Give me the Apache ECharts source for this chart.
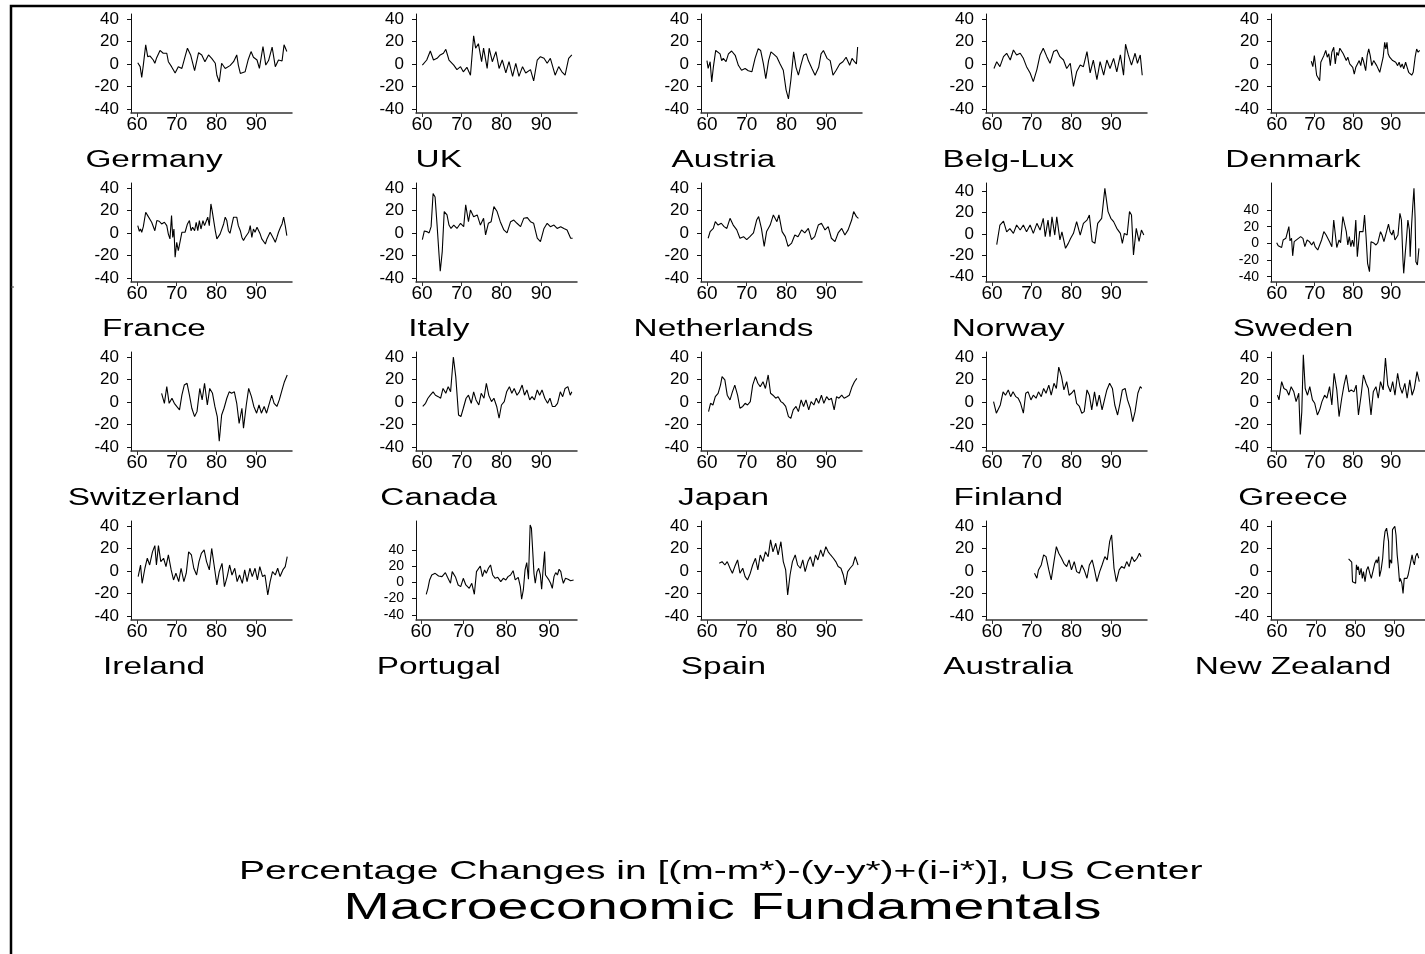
<!DOCTYPE html>
<html>
<head>
<meta charset="utf-8">
<title>Macroeconomic Fundamentals</title>
<script src="https://cdn.jsdelivr.net/npm/echarts@6/dist/echarts.min.js"></script>
<style>
  html, body { margin: 0; padding: 0; background: #fff; }
  #chart { width: 1425px; height: 954px; }
</style>
</head>
<body>
<div id="chart"></div>
<script>
var countries = ['Germany', 'UK', 'Austria', 'Belg-Lux', 'Denmark',
  'France', 'Italy', 'Netherlands', 'Norway', 'Sweden',
  'Switzerland', 'Canada', 'Japan', 'Finland', 'Greece',
  'Ireland', 'Portugal', 'Spain', 'Australia', 'New Zealand']
var xTicks = [60, 70, 80, 90]
var yTicks = [-40, -20, 0, 20, 40]

// [year, percentage change]
var germany = [[60.2,1],[60.8,-2.4],[61.2,-12],[61.6,-1],[62.2,17],[62.7,6.5],[63.3,7],[64.1,3.5],[64.5,0.6],[64.9,5],[65.8,12],[66.6,9.5],[67.5,9.5],[67.9,2],[68.7,-2.4],[69.6,-8],[70.4,-2.4],[71.3,-4],[72.1,6.5],[72.7,14],[73.5,8],[74.5,-6],[75.5,10],[76.3,8],[77.1,2],[78,8],[78.8,5],[79.7,0.6],[80.1,-10],[80.7,-16],[81.3,0.6],[82.2,-4],[83.4,-1.5],[84.3,2],[85.1,8],[85.5,-1],[86,-8.4],[87.2,-7],[88,4],[88.7,11],[89.3,6],[90.2,3.5],[90.8,-4],[91.7,15.5],[92.4,-1],[93.1,3],[94,15],[94.8,-2.4],[95.6,3.5],[96.5,2.7],[97,17],[97.7,11]]
var uk = [[60.1,-1],[60.6,-2.4],[61.2,3.5],[62.1,11.5],[62.9,3.5],[63.8,5],[64.6,8],[65.4,9.5],[66,13],[66.8,3.5],[68,-1],[68.8,-5],[69.7,-2.4],[70.4,-7],[71.3,-3],[72.2,-10],[73,25],[73.5,14],[74.2,18],[75,2],[75.5,14],[76.4,-4],[76.9,14],[77.7,2],[78.6,11],[79.4,-4],[80.2,3.5],[81.1,-8],[81.9,2],[82.8,-11],[83.6,0.6],[84.4,-11],[85.3,-2.4],[86.1,-8],[87.3,-5],[88.1,-15],[89,3.5],[89.8,6.5],[90.7,5],[91.5,0.6],[92.3,5],[93.5,-10],[94.4,-2.4],[95.2,-7],[96,-10],[96.9,5],[97.7,8]]
var austria = [[60,3],[60.3,-4],[60.8,2],[61.2,-16],[61.6,-3],[62.2,12],[62.7,13.6],[63.3,9],[63.7,3],[64.1,5],[64.8,2],[65.4,9],[66.2,11.5],[67.1,7.7],[67.9,-1.2],[68.7,-5.6],[69.6,-4],[70.4,-6],[71.3,-7],[72.1,5],[72.9,13.6],[73.5,12],[74.2,0],[74.8,-13],[75.5,3],[76.1,10.7],[76.7,9],[77.6,6],[78.4,0],[79.2,-5.6],[79.9,-23],[80.5,-31],[81.1,-14.5],[81.8,10.7],[82.4,-3],[83,-10],[83.6,-1.2],[84.3,7.7],[85,9],[85.5,3],[86.4,-4],[87.2,-10],[88.1,-3],[88.7,9],[89.3,12],[90.2,5],[91,3],[91.7,-10],[92.5,-5.6],[93.4,0],[94.2,2],[95,6],[95.9,-1.2],[96.5,5],[97.1,2],[97.6,0],[97.9,15]]
var belgLux = [[60.5,-4],[61.2,2],[62,-2.4],[62.9,6.5],[63.7,9.5],[64.6,3.5],[65.4,12.4],[66.2,8],[67.1,9.5],[67.9,5],[68.7,-2.4],[69.6,-8],[70.4,-15.7],[71.3,-5],[72.1,8],[72.9,14],[73.8,6.5],[74.6,0.6],[75.5,11],[76.3,12.4],[77.1,6.5],[78,3.5],[78.8,-4],[79.7,0.6],[80.5,-20],[81.3,-7],[82.2,-1],[83,-2.4],[83.9,11],[84.7,-8],[85.5,3.5],[86.4,-14],[87.2,2],[88.1,-10],[88.9,3.5],[89.7,-4],[90.6,5],[91.4,-7],[92.3,8],[93.1,-10],[93.6,17.5],[94.3,8],[95.1,-1],[96,9.5],[96.6,0.6],[97.3,8],[97.8,-10]]
var denmark = [[69.1,2.4],[69.5,-2.4],[69.9,7.4],[70.2,9],[70.5,-10],[71,-13],[71.3,-15],[71.6,1.5],[72,3],[72.4,7.4],[72.9,12],[73.3,6],[73.7,9],[74.1,-1.5],[74.5,10.4],[75,14.8],[75.4,0],[75.8,10.4],[76.2,7.4],[76.6,14],[77.1,13.3],[77.5,9],[77.9,10.4],[78.3,3],[78.7,6],[79.2,0],[79.6,1.5],[80,-3],[80.4,-9],[80.8,-3],[81.3,-4.4],[81.7,3],[82.1,-1.5],[82.5,6],[82.9,1.5],[83.4,-6],[83.8,7.4],[84.2,13.3],[84.6,7.4],[85,-1.5],[85.5,3],[85.9,1.5],[86.3,-1.5],[86.7,-3],[87.1,-7.4],[87.6,0],[88,6],[88.4,19.3],[88.7,13.3],[89,19.3],[89.3,9],[89.7,6],[90.1,7.4],[90.5,3],[90.9,3],[91.3,1.5],[91.8,-1.5],[92.2,1.5],[92.6,-3],[93,0],[93.4,-4.4],[93.9,1.5],[94.3,-3],[94.7,-7.4],[95.1,-6],[95.5,-10],[95.9,-7.4],[96.4,6],[96.8,13.3],[97.2,10.4],[97.6,12]]
var france = [[60.2,6.5],[60.6,1.5],[60.9,3.5],[61.2,0.6],[61.6,5.6],[62.2,18.4],[62.7,15.4],[63.1,17],[63.7,9.5],[64.1,8],[64.5,2],[65,11],[65.6,10.4],[66.2,8],[66.9,9.5],[67.5,6.5],[67.9,-1],[68.3,-5.3],[68.7,15.4],[69,-4],[69.3,3.5],[69.6,-21.6],[70,-8.3],[70.4,-15.7],[70.8,-15],[71.3,0.6],[71.7,2],[72.1,0.6],[72.7,8],[73.2,11],[73.6,2],[74,5],[74.5,2],[74.9,9.5],[75.3,2],[75.7,11],[76.1,3.5],[76.6,11],[77,6.5],[77.4,5],[77.8,14],[78.2,6.5],[78.6,25.8],[78.9,20],[79.2,18.4],[79.7,2],[80.1,-5.3],[80.5,-6.8],[80.9,-1],[81.3,0.6],[81.8,8],[82.2,14],[82.6,11],[83,2],[83.4,-0.3],[83.9,0.6],[84.3,14],[84.7,12.4],[85.1,14],[85.5,6.5],[86,2],[86.4,-4],[86.8,-6.8],[87.2,-4],[87.6,-5.3],[88.1,0.6],[88.5,6.5],[88.9,-4],[89.3,3.5],[89.7,0.6],[90.2,5],[90.6,3.5],[91,-1],[91.4,-5.3],[91.8,-6.8],[92.3,-9.8],[92.7,-5.3],[93.1,-4],[93.5,0.6],[93.9,2],[94.4,-5.3],[94.8,-8.3],[95.2,-4],[95.6,0.6],[96.1,5],[96.5,8],[96.9,14],[97.3,6.5],[97.7,-2.4]]
var italy = [[60.1,-6],[60.6,1.8],[61.2,1.2],[61.8,0],[62.3,5.6],[62.8,35],[63.3,32],[63.8,7],[64.3,-19.6],[64.6,-34],[65.1,-16.6],[65.6,19],[66.3,16],[66.8,7],[67.3,4],[68,7],[68.8,4],[69.7,8.6],[70.5,5.6],[71,25],[71.7,10],[72.2,20.4],[73,14.5],[73.9,16],[74.7,7],[75.5,13],[76,-1.8],[76.7,8.6],[77.4,10],[78.1,23.4],[78.9,19],[79.7,10],[80.6,2.7],[81.4,0],[82.3,10],[83.1,11.5],[83.9,8.6],[84.8,5.6],[85.6,13],[86.5,13.6],[87.3,10],[88.1,8.6],[89,-4.7],[89.8,-7.7],[90.7,4],[91.5,8.6],[92.3,5.6],[93.2,7],[94,4],[94.9,5.6],[95.7,4],[96.5,2.7],[97.4,-4.7],[97.9,-4.7]]
var netherlands = [[60.3,-4.7],[60.8,1.2],[61.6,4],[62.1,10],[62.8,7],[63.6,8.6],[64.3,5.6],[65,4],[65.8,13],[66.6,7],[67.5,2.7],[68.3,-4.7],[69.2,-3.3],[70,-6],[70.8,-3.3],[71.7,0],[72.5,11.5],[73,14.5],[73.7,4],[74.4,-12],[75,1.2],[75.9,7],[76.7,16],[77.6,10],[78.1,16],[78.9,1.2],[79.7,-3.3],[80.4,-12],[81.3,-9],[82.1,-1.8],[82.9,-3.3],[83.8,2.7],[84.6,0],[85.5,4],[86.3,-6],[87.1,-3.3],[88,7],[88.8,8.6],[89.7,2.7],[90.5,5.6],[91.3,-4.7],[92.2,-7.7],[93,0],[93.9,4],[94.7,-1.8],[95.5,2.7],[96.4,11.5],[96.9,19],[97.6,14.5],[98.1,13]]
var norway = [[61.2,-10],[62,8.4],[62.9,12],[63.7,2],[64.5,5],[65.4,0.6],[66.2,8.4],[67.1,3.7],[67.9,8.4],[68.7,2],[69.6,8.4],[70.4,0.6],[71.3,10],[72.1,3.7],[72.9,14.7],[73.4,-2.5],[74.1,13],[74.6,-2.5],[75.1,16],[75.8,-1],[76.3,16],[77.1,-5.6],[77.6,2],[78.5,-13.4],[79.2,-8.8],[79.8,-4],[80.5,0.6],[81.3,11.6],[82.2,-1],[83,10],[83.9,13],[84.5,17.8],[85.2,-7],[85.9,-8.8],[86.6,10],[87.6,14.7],[88.4,42.8],[89.2,21],[89.9,14.7],[90.6,11.6],[91.4,5.3],[92.3,0.6],[92.8,-8.8],[93.3,0.6],[94,-1],[94.6,21],[95.1,17.8],[95.6,-19.7],[96.3,5.3],[97,-7],[97.6,3.7],[98.2,-1]]
var sweden = [[60,0.8],[60.4,-3],[60.8,-0.8],[61.3,-5],[61.7,4],[62.4,6],[62.8,5],[63.2,20],[63.5,3],[63.9,6],[64.2,-15],[64.6,2],[65,0.8],[65.7,6],[66.3,8],[66.9,6],[67.4,-4],[68,4],[68.6,2],[69.2,-2],[69.7,2],[70.1,-4],[70.8,-8],[71.3,-6],[71.8,4],[72.4,14],[73,10],[73.4,8],[73.9,2],[74.5,-4],[75,28],[75.3,26],[75.8,-5],[76.4,4],[76.8,0.8],[77.4,32],[77.9,22],[78.3,14],[78.7,-2],[79.1,8],[79.5,-4],[79.9,4],[80.3,-4],[80.8,28],[81.2,-16],[81.5,-18],[81.8,14],[82.3,12],[82.7,14],[83.1,34],[83.5,8],[83.9,-24],[84.4,-34],[84.8,2],[85.4,0.8],[86.1,-2],[86.6,0.8],[87.3,14],[87.7,10],[88.2,2],[88.7,3],[89.4,23],[89.8,14],[90.3,10],[90.7,16],[91.1,4],[91.5,6],[91.9,10],[92.4,36],[92.8,28],[93.2,-20],[93.4,-36],[93.8,-12],[94.1,4],[94.5,28],[94.9,16],[95.1,-16],[95.5,24],[95.8,46],[96,44],[96.1,66],[96.4,30],[96.6,-22],[97,-26],[97.4,-6]]
var switzerland = [[66.2,7.7],[66.9,-1.2],[67.5,13.6],[68.1,-1.2],[68.8,3.3],[69.4,-1.2],[70,-4],[70.7,-7],[71.3,6],[71.9,15],[72.6,16.6],[73.2,6],[73.8,-5.6],[74.5,-13],[75.1,-8.6],[75.8,12],[76.4,1.8],[77,16.6],[77.7,-2.7],[78.3,12],[79,7.7],[79.6,-4],[80.2,-13],[80.7,-35],[81.3,-11.6],[81.9,-5.6],[82.6,3.3],[83.2,9],[83.8,7.7],[84.5,9],[85.1,-1.2],[85.7,-19],[86.4,-5.6],[86.8,-23.4],[87.5,-2.7],[88.1,12],[88.8,4.7],[89.4,-4],[90.1,-10],[90.7,-2.7],[91.3,-10],[92,-4],[92.6,-10],[93.3,-1.2],[93.9,6],[94.5,-1.2],[95.2,-4],[95.8,1.8],[96.5,10.7],[97.1,18],[97.8,24]]
var canada = [[60.2,-4],[60.9,-1.2],[61.5,3.3],[62.1,6],[62.8,9],[63.4,6],[64.1,4.7],[64.7,3.3],[65.3,12],[66,7.7],[66.6,13.6],[67.2,9],[67.9,40],[68.5,22.5],[69.2,-11.6],[69.8,-13],[70.4,-5.6],[71.1,3.3],[71.7,6],[72.4,-1.2],[73,9],[73.6,1.8],[74.3,-2.7],[74.9,7.7],[75.6,3.3],[76.2,16.6],[76.8,6],[77.5,0.3],[78.1,3.3],[78.8,-4],[79.4,-14.5],[80,-2.7],[80.7,0.3],[81.3,9],[82,13.6],[82.6,7.7],[83.2,12],[83.9,6],[84.5,9],[85.2,15],[85.8,6],[86.4,10.7],[87.1,1.8],[87.7,4.7],[88.3,1.8],[89,10.7],[89.6,6],[90.2,10.7],[90.9,3.3],[91.6,-1.2],[92.2,3.3],[92.8,-4],[93.5,-4],[94.1,-1.2],[94.8,9],[95.4,4.7],[96,12],[96.7,13.6],[97.3,6],[97.7,9]]
var japan = [[60.4,-8.6],[60.9,-1.2],[61.5,-2.7],[62.1,4.7],[62.8,7.7],[63.4,15],[63.8,22.5],[64.5,19.6],[65.1,6],[65.8,1.8],[66.4,9],[67,15],[67.7,6],[68.3,-5.6],[69,-4],[69.6,-1.2],[70.2,-2.7],[70.9,0.3],[71.5,15],[72.2,22.5],[72.8,16.6],[73.4,13.6],[74.1,18],[74.7,12],[75.4,24],[76,7.7],[76.6,6],[77.3,3.3],[77.9,4.7],[78.6,0.3],[79.2,-1.2],[79.8,-4],[80.5,-13],[81.1,-14.5],[81.7,-7],[82.4,-4],[83,-8.6],[83.7,1.8],[84.3,-4],[84.9,1.8],[85.6,-7],[86.2,0.3],[86.9,-2.7],[87.5,3.3],[88.1,-1.2],[88.8,6],[89.4,-1.2],[90.1,4.7],[90.7,1.8],[91.3,3.3],[92,-7],[92.6,4.7],[93.2,3.3],[93.9,6],[94.5,3.3],[95.2,4.7],[95.8,6],[96.5,13.6],[97.1,18],[97.7,21]]
var finland = [[60.4,0.3],[61.1,-10],[61.5,-11.6],[62.1,-2.7],[62.8,9],[63.4,6],[64.1,10.7],[64.7,4.7],[65.3,9],[66,4.7],[66.6,3.3],[67.2,-1.2],[67.9,-10],[68.5,7.7],[69.1,9],[69.8,1.8],[70.4,6],[71.1,3.3],[71.7,9],[72.4,4.7],[73,12],[73.6,7.7],[74.3,15],[74.9,6],[75.6,16.6],[76.2,12],[76.8,31],[77.5,22.5],[78.1,10.7],[78.8,18],[79.4,6],[80,7.7],[80.7,10.7],[81.3,-1.2],[82,-4],[82.6,-10],[83.2,-8.6],[83.9,10.7],[84.5,6],[85.1,-7],[85.8,9],[86.4,-4],[87,6],[87.7,-7],[88.3,1.8],[88.9,10.7],[89.6,16.6],[90.3,12],[90.9,-2.7],[91.6,-11.6],[92.2,-1.2],[92.8,10.7],[93.5,12],[94.1,1.8],[94.8,-5.6],[95.4,-17.5],[96,-8.6],[96.7,7.7],[97.3,13.6],[97.7,12]]
var greece = [[60.2,6],[60.6,1.8],[61.3,18],[61.9,12],[62.6,10.7],[63.2,6],[63.8,13.6],[64.5,9],[65.1,0.3],[65.8,7.7],[66.2,-29],[66.6,-8.6],[67,42],[67.5,12],[68.1,6],[68.7,13.6],[69.4,1.8],[70,-1.2],[70.7,-11.6],[71.3,-7],[71.9,0.3],[72.6,6],[73.2,3.3],[73.9,13.6],[74.5,-2.7],[75.1,25.5],[75.8,10.7],[76.4,-13],[77.1,3.3],[77.7,15],[78.3,24],[79,9],[79.6,10.7],[80.3,9],[80.9,15],[81.5,-11.6],[82.2,6],[82.8,24],[83.5,16.6],[84.1,12],[84.8,-11.6],[85.4,9],[86.1,13.6],[86.7,3.3],[87.3,18],[88,10.7],[88.6,39],[89.2,15],[89.9,9],[90.5,18],[91.1,6],[91.8,25.5],[92.4,13.6],[93,7.7],[93.7,16.6],[94.3,3.3],[95,19.6],[95.6,6],[96.2,12],[96.9,27],[97.5,18]]
var ireland = [[60.3,-5],[60.9,5.3],[61.3,-11],[62,2.4],[62.6,11.3],[63.2,5.3],[63.9,17],[64.5,22.5],[64.9,5.3],[65.4,22.5],[66,8.3],[66.7,11.3],[67.3,3.9],[67.9,14.2],[68.6,0.9],[69.2,-8],[69.8,-2],[70.5,-9.5],[71.1,2.4],[71.8,-9.5],[72.4,-2],[73,17],[73.7,14.2],[74.3,2.4],[75,-3.6],[75.6,8.3],[76.2,15.7],[76.9,18.7],[77.5,8.3],[78.2,0.9],[78.8,20],[79.4,5.3],[80.1,-12.4],[80.7,-0.6],[81.4,6.8],[82,-14],[82.7,-5],[83.3,5.3],[83.9,-3.6],[84.6,2.4],[85.2,-9.5],[85.8,-3.6],[86.5,-11],[87.1,0.9],[87.7,-9.5],[88.4,2.4],[89,-5],[89.7,2.4],[90.3,-8],[90.9,3.9],[91.6,-5],[92.2,-3.6],[92.9,-21.3],[93.5,-9.5],[94.1,-0.6],[94.8,-3.6],[95.4,2.4],[96,-5],[96.7,0.9],[97.3,3.9],[97.8,12.7]]
var portugal = [[61.2,-14.8],[61.6,-7.4],[62,2.9],[62.5,9],[63.3,11],[64.1,7.8],[64.9,7],[65.7,11.9],[66.2,6.1],[66.9,-1.2],[67.3,13.1],[67.7,15.2],[68.1,6.1],[68.7,-3.3],[69.3,-5.3],[69.9,4.9],[70.5,-3.3],[71.3,-7.4],[71.9,-1.2],[72.5,-14.8],[73,13.1],[73.4,15.2],[73.9,20],[74.4,7],[74.9,15.2],[75.3,11],[75.8,17.2],[76.3,21.3],[76.8,9],[77.4,4.9],[78,6.1],[78.7,0.8],[79.3,4.9],[79.9,2.9],[80.4,7],[81,9],[81.6,14.3],[82.1,2.9],[82.8,6.1],[83.3,-5.3],[83.6,-20.9],[84,-9.4],[84.4,15.2],[84.8,24.2],[85.2,3.7],[85.6,70.5],[85.9,66.4],[86.2,64.3],[86.5,11],[86.8,-1.2],[87.2,13.1],[87.6,17.2],[88,9],[88.3,-8.6],[88.6,13.1],[89,37.7],[89.2,9],[89.6,7],[90,2.9],[90.4,-1.2],[90.8,-7.4],[91.2,7],[91.6,11.9],[92,9],[92.4,16],[92.8,13.1],[93.1,4.9],[93.4,-1.2],[93.9,4.9],[94.5,3.7],[95.1,2],[95.8,2.9]]
var spain = [[63.1,6.8],[63.8,8.3],[64.5,5.3],[65.1,8.3],[65.8,2.4],[66.4,-2],[67,3.9],[67.7,9.8],[68.3,-2],[69,2.4],[69.6,-5],[70.2,-8],[70.9,-2],[71.5,5.3],[72.2,11.3],[72.8,0.9],[73.4,14.2],[74.1,8.3],[74.7,17],[75.4,12.7],[76,27.6],[76.6,17],[77.3,24.6],[77.9,14.2],[78.6,26],[79.2,8.3],[79.8,0.9],[80.3,-21.3],[80.9,-3.6],[81.5,8.3],[82.2,14.2],[82.8,5.3],[83.5,2.4],[84.1,9.8],[84.7,-0.6],[85.4,8.3],[86,12.7],[86.7,3.9],[87.3,14.2],[87.9,9.8],[88.6,18.7],[89.2,12.7],[89.9,21.6],[90.5,17],[91.1,14.2],[91.8,11.3],[92.4,8.3],[93,3.9],[93.7,2.4],[94.3,-3.6],[94.8,-12.4],[95.4,-0.6],[96,2.4],[96.7,5.3],[97.3,12.7],[98,5.3]]
var australia = [[70.7,-2],[71.3,-6.5],[71.7,0.9],[72.4,5.3],[73,14.2],[73.6,12.7],[74.3,0.9],[74.9,-8],[75.6,8.3],[76.2,21.6],[76.8,15.7],[77.5,11.3],[78.1,6.8],[78.8,3.9],[79.4,9.8],[80,0.9],[80.7,8.3],[81.3,-0.6],[82,-2],[82.6,5.3],[83.2,0.9],[83.9,-6.5],[84.5,5.3],[85.2,9.8],[85.8,0.9],[86.4,-9.5],[87.1,-0.6],[87.7,5.3],[88.4,12.7],[89,9.8],[89.6,26],[90.1,32],[90.7,2.4],[91.3,-9.5],[92,0.9],[92.6,3.9],[93.3,2.4],[93.9,8.3],[94.5,3.9],[95.2,12.7],[95.8,8.3],[96.5,11.3],[97.1,15.7],[97.5,12.7]]
var newZealand = [[78.3,10.7],[78.7,9],[79.1,7.8],[79.3,-9.6],[79.7,-9],[80.1,-11],[80.3,5.4],[80.6,0.9],[80.8,3.9],[81.1,-3.6],[81.5,2.4],[81.8,-6.6],[82.1,-0.6],[82.5,-9.6],[82.9,0.9],[83.3,3.9],[83.7,-2],[84.1,-6.6],[84.6,0.9],[85,6.9],[85.4,9.9],[85.6,6.9],[86,12.8],[86.2,-5],[86.6,0.9],[87,11.3],[87.3,26.3],[87.6,35],[88,38],[88.2,36.7],[88.5,26.3],[88.7,2.4],[88.9,9.9],[89.3,6.9],[89.5,36.7],[89.8,36.7],[90.1,39.7],[90.4,32],[90.7,14.3],[91,3.9],[91.3,-9.6],[91.5,-6.6],[91.9,-11],[92.2,-20],[92.5,-6.6],[92.8,-5],[93.2,-6.6],[93.5,-3.6],[93.8,-5],[94.1,6.9],[94.5,14.3],[94.8,8.4],[95.1,5.4],[95.4,12.8],[95.8,15.8],[96.2,11.3]]

var seriesData = [germany, uk, austria, belgLux, denmark,
  france, italy, netherlands, norway, sweden,
  switzerland, canada, japan, finland, greece,
  ireland, portugal, spain, australia, newZealand]

// panels whose axes run over a different span
var xExtent = { 'Portugal': [58.8, 96.6], 'New Zealand': [58.5, 97.8] }
var yExtent = { 'Norway': [-45, 47.8], 'Sweden': [-46.4, 72.4], 'Portugal': [-46.4, 75.4] }

var font = '"Liberation Sans", Arial, Helvetica, sans-serif'
var chart = echarts.init(document.getElementById('chart'), null, { renderer: 'canvas' })

var grids = [], xAxes = [], yAxes = [], series = [], graphics = []

countries.forEach(function(name, i) {
  var row = Math.floor(i / 5), col = i % 5
  var xe = xExtent[name] || [58.5, 99]
  var ye = yExtent[name] || [-43.6, 44.4]
  // the stretched panels pack their ticks closer, so their labels are smaller
  var tall = ye[1] - ye[0] > 100
  grids.push({ left: 131 + 285 * col, top: 14 + 169 * row, width: 161, height: 99 })
  xAxes.push({
    gridIndex: i, type: 'value', min: xe[0], max: xe[1],
    axisLine: { show: true, onZero: false, lineStyle: { color: '#333', width: 1.5 } },
    axisTick: { show: true, customValues: xTicks, length: 4, lineStyle: { color: '#333' } },
    axisLabel: { customValues: xTicks, color: '#000', fontSize: 19, fontFamily: font, margin: 2,
      hideOverlap: false },
    splitLine: { show: false }
  })
  yAxes.push({
    gridIndex: i, type: 'value', min: ye[0], max: ye[1],
    axisLine: { show: true, onZero: false, lineStyle: { color: '#111', width: 1 } },
    axisTick: { show: true, customValues: yTicks, length: 4, lineStyle: { color: '#111' } },
    axisLabel: { customValues: yTicks, color: '#000', fontSize: tall ? 14 : 17, fontFamily: font,
      margin: 12, hideOverlap: false },
    splitLine: { show: false }
  })
  series.push({
    type: 'line', xAxisIndex: i, yAxisIndex: i, data: seriesData[i],
    showSymbol: false, symbol: 'none', silent: true,
    lineStyle: { color: '#000', width: 1.1 }
  })
  graphics.push({
    type: 'text', x: 154 + 284.75 * col, y: 161 + 169 * row, scaleX: 1.45, silent: true,
    style: { text: name, font: '23px ' + font, fill: '#000',
      textAlign: 'center', textVerticalAlign: 'middle', align: 'center', verticalAlign: 'middle' }
  })
})

graphics.push({
  type: 'text', x: 720.7, y: 872, scaleX: 1.5, silent: true,
  style: { text: 'Percentage Changes in [(m-m*)-(y-y*)+(i-i*)], US Center', font: '26px ' + font, fill: '#000',
    textAlign: 'center', textVerticalAlign: 'middle', align: 'center', verticalAlign: 'middle' }
})
graphics.push({
  type: 'text', x: 722.5, y: 909, scaleX: 1.54, silent: true,
  style: { text: 'Macroeconomic Fundamentals', font: '36px ' + font, fill: '#000',
    textAlign: 'center', textVerticalAlign: 'middle', align: 'center', verticalAlign: 'middle' }
})
// outer frame (only the top and left edges fall inside the picture)
graphics.push({
  type: 'rect', silent: true, shape: { x: 11, y: 6, width: 1500, height: 1000 },
  style: { fill: 'none', stroke: '#000', lineWidth: 2.5 }
})
graphics.push({
  type: 'line', silent: true, shape: { x1: 11, y1: 287, x2: 14, y2: 287 },
  style: { stroke: '#444', lineWidth: 1 }
})

chart.setOption({
  backgroundColor: '#fff',
  animation: false,
  grid: grids,
  xAxis: xAxes,
  yAxis: yAxes,
  series: series,
  graphic: graphics
})
</script>
</body>
</html>
